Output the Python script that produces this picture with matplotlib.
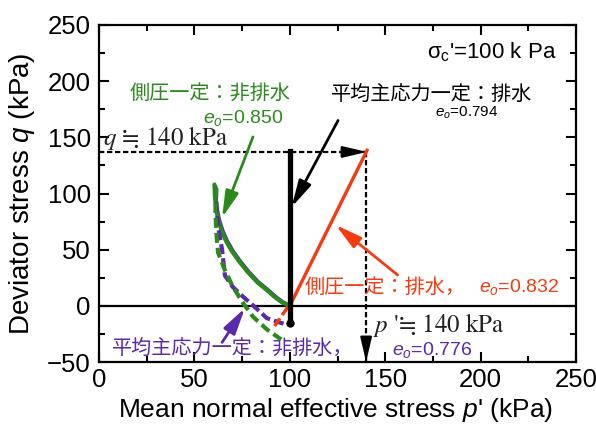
import matplotlib
matplotlib.use("Agg")
import matplotlib.pyplot as plt
from matplotlib.ticker import MultipleLocator

plt.rcParams['font.family'] = ['Liberation Sans', 'DejaVu Sans']
plt.rcParams['mathtext.fontset'] = 'custom'
plt.rcParams['mathtext.rm'] = 'Liberation Sans'
plt.rcParams['mathtext.it'] = 'Liberation Sans:italic'

CJK = ['Noto Sans CJK JP', 'DejaVu Sans']
SERIF = 'STIXGeneral'

GREEN = '#2A8A1C'
RED = '#F53A10'
PURPLE = '#5A2AA8'

# --- data (p', q) in kPa ---
# σ3-constant undrained, compression (solid) and extension (dashed)
green_solid_p = [100, 96, 92, 88, 83, 78, 73.5, 69.5, 66.5, 64.2, 62.6, 61.5, 60.8, 60.5]
green_solid_q = [0, 3, 8, 14, 21, 30, 39.5, 49, 58, 67, 76, 85, 96, 108]
green_dash_p = [61.5, 61.0, 61.5, 62.4, 66.0, 70.2, 75.5, 80.7, 88.0, 95.5]
green_dash_q = [105, 85, 65, 47.5, 31.7, 16.7, 2.6, -9.7, -21, -30]
# p-constant undrained
purple_solid_p = [100, 96.5, 92.5, 88.5, 83.5, 78.5, 74, 70, 67, 64.7, 63.0, 61.9, 61.2, 61.0]
purple_solid_q = [0, 3, 8, 14, 21, 30, 39.5, 49, 58, 67, 76, 85, 96, 106]
purple_dash_p = [61.3, 61.5, 62.5, 64.5, 66.0, 70.0, 75.6, 81.0, 88.0, 95.0, 97.0]
purple_dash_q = [105, 88, 70, 50, 27, 17, 8, 0, -11, -15, -16]
# σ3-constant drained
red_p = [100, 140.5]
red_q = [0, 138.5]
red_dash_p = [99, 92]
red_dash_q = [-1, -18]
# p-constant drained
black_p = [100, 100]
black_q = [-15, 138]

q_failure = 137
p_failure = 140

xticks = [0, 50, 100, 150, 200, 250]
yticks = [-50, 0, 50, 100, 150, 200, 250]

fig = plt.figure(figsize=(5.96, 4.28), dpi=100)
ax = fig.add_axes([99/596, 1-362/428, 477/596, 337/428])

ax.set_xlim(0, 250)
ax.set_ylim(-50, 250)
ax.set_xticks(xticks)
ax.set_yticks(yticks)
ax.xaxis.set_minor_locator(MultipleLocator(25))
ax.yaxis.set_minor_locator(MultipleLocator(25))
ax.tick_params(which='both', direction='in', top=True, right=True, width=1.5)
ax.tick_params(which='major', length=7, labelsize=18.5)
ax.tick_params(axis='y', which='major', pad=6)
ax.tick_params(axis='x', which='major', pad=4)
ax.tick_params(which='minor', length=4.5)
for s in ax.spines.values():
    s.set_linewidth(1.6)

ax.axhline(0, color='black', lw=1.6, zorder=2)

# dashed guide lines
ax.plot([0, p_failure], [q_failure, q_failure], color='black', lw=1.6,
        ls=(0, (2.4, 1.2)), zorder=3)
ax.plot([p_failure, p_failure], [q_failure, -50], color='black', lw=1.6,
        ls=(0, (2.4, 1.2)), zorder=3, clip_on=False)
ax.annotate('', xy=(p_failure + 0.5, q_failure), xytext=(p_failure - 1, q_failure),
            arrowprops=dict(arrowstyle='-|>,head_length=1.5,head_width=0.35',
                            color='black', lw=1.5, mutation_scale=10,
                            shrinkA=0, shrinkB=0), zorder=4)
ax.annotate('', xy=(p_failure, -50), xytext=(p_failure, -48),
            arrowprops=dict(arrowstyle='-|>,head_length=1.5,head_width=0.35',
                            color='black', lw=1.5, mutation_scale=10,
                            shrinkA=0, shrinkB=0), zorder=4, annotation_clip=False)

# stress paths
ax.plot(purple_solid_p, purple_solid_q, color=PURPLE, lw=3.0, zorder=4,
        solid_capstyle='round')
ax.plot(green_solid_p, green_solid_q, color=GREEN, lw=3.0, zorder=5,
        solid_capstyle='round')
ax.plot(purple_dash_p, purple_dash_q, color=PURPLE, lw=3.0, ls=(0, (2.4, 1.0)), zorder=5)
ax.plot(green_dash_p, green_dash_q, color=GREEN, lw=3.0, ls=(0, (2.4, 1.2)), zorder=6)
ax.plot(red_p, red_q, color=RED, lw=2.4, zorder=6)
ax.plot(red_dash_p, red_dash_q, color=RED, lw=2.4, ls=(0, (3, 1.2)), zorder=6)
ax.plot(black_p, black_q, color='black', lw=3.8, zorder=7)
ax.plot([black_p[0]], [black_q[0]], 'o', color='black', ms=5, zorder=7)

# pointer arrows
def pointer(tail, tip, color):
    ax.annotate('', xy=tip, xytext=tail,
                arrowprops=dict(arrowstyle='-|>,head_length=1.6,head_width=0.4',
                                color=color, lw=2.0, mutation_scale=10,
                                shrinkA=0, shrinkB=0), zorder=8)

pointer((80.7, 150.4), (64.5, 78.5), GREEN)
pointer((125.3, 165), (101, 88), 'black')
pointer((156.5, 27.5), (124, 72), RED)
pointer((64.5, -32.5), (76.5, -2), PURPLE)

# texts
ax.text(240, 226, "σ$_\\mathrm{c}$'=100 k Pa", fontsize=16, ha='right', va='center')
ax.text(174.5, 187.6, '平均主応力一定：排水', family=CJK, fontsize=14.5,
        ha='center', va='center', color='black')
ax.text(192.9, 171.6, '$e_o$=0.794', fontsize=11, ha='center', va='center', color='black')
ax.text(58.4, 189.4, '側圧一定：非排水', family=CJK, fontsize=14.5,
        ha='center', va='center', color=GREEN)
ax.text(75.7, 167, '$e_o$=0.850', fontsize=14, ha='center', va='center', color=GREEN)
ax.text(2, 149.5, '$q$ ≒ 140 kPa', family=SERIF, math_fontfamily='stix',
        fontsize=18, ha='left', va='center', color='#222222')
ax.text(108, 16.7, '側圧一定：排水，', family=CJK, fontsize=14.5,
        ha='left', va='center', color=RED)
ax.text(220.4, 16.7, '$e_o$=0.832', fontsize=14, ha='center', va='center', color=RED)
ax.text(143.6, -17, "$p$ '≒ 140 kPa", family=SERIF, math_fontfamily='stix',
        fontsize=18, ha='left', va='center', color='#222222')
ax.text(6.8, -39, '平均主応力一定：非排水，', family=CJK, fontsize=14.5,
        ha='left', va='center', color=PURPLE)
ax.text(174.8, -39, '$e_o$=0.776', fontsize=14, ha='center', va='center', color=PURPLE)

ax.set_xlabel("Mean normal effective stress $p$' (kPa)", fontsize=19, va='center')
ax.set_ylabel("Deviator stress $q$ (kPa)", fontsize=20, va='center')
ax.xaxis.set_label_coords(0.495, -0.142)
ax.yaxis.set_label_coords(-0.161, 0.5)

fig.savefig('out.png', dpi=100)
